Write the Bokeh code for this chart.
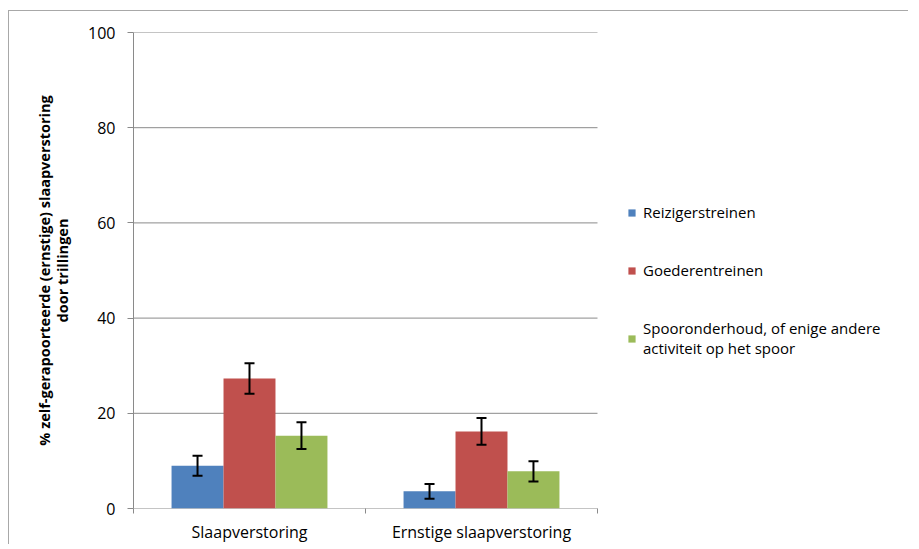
from bokeh.plotting import figure
from bokeh.models import (ColumnDataSource, Whisker, TeeHead, FixedTicker, Legend,
                          LegendItem, Range1d)
from bokeh.embed import file_html
from bokeh.resources import INLINE

# ---- data ----
categories = ["Slaapverstoring", "Ernstige slaapverstoring"]
series_names = ["Reizigerstreinen", "Goederentreinen",
                "Spooronderhoud, of enige andere\nactiviteit op het spoor"]
reizigers = [9.0, 3.6]
reizigers_err = [2.1, 1.55]
goederen = [27.3, 16.2]
goederen_err = [3.2, 2.8]
onderhoud = [15.3, 7.8]
onderhoud_err = [2.8, 2.15]
y_ticks = [0, 20, 40, 60, 80, 100]
y_label = "% zelf-gerapoorteerde (ernstige) slaapverstoring\ndoor trillingen"

colors = ["#4F81BD", "#C0504D", "#9BBB59"]
FONT = "Open Sans"
GRID = "#8a8a8a"

pos = [i + 1 for i in range(len(categories))]
values = [reizigers, goederen, onderhoud]
errors = [reizigers_err, goederen_err, onderhoud_err]
bar_w = 0.224
offsets = [-bar_w, 0.0, bar_w]

x_lo, x_hi = 0.5, len(categories) + 0.5
# frame extends to the right so that the legend sits inside it (not clipped)
p = figure(width=900, height=534, output_backend="svg", toolbar_location=None,
           x_range=Range1d(x_lo, 3.8276), y_range=Range1d(0, 100),
           min_border_left=124, min_border_right=4, min_border_top=21,
           min_border_bottom=30)
p.styles = {"border-left": "1px solid #a8a8a8", "border-top": "1px solid #a8a8a8",
            "margin-top": "10px", "margin-left": "8px"}
p.outline_line_color = None
p.background_fill_color = "white"
p.border_fill_color = "white"

# horizontal gridlines limited to the category area
p.segment(x0=[x_lo] * len(y_ticks), x1=[x_hi] * len(y_ticks), y0=y_ticks, y1=y_ticks,
          line_color=GRID, line_width=1)

items = []
for name, vals, errs, off, col in zip(series_names, values, errors, offsets, colors):
    src = ColumnDataSource(dict(
        x=[x + off for x in pos], top=vals,
        upper=[v + e for v, e in zip(vals, errs)],
        lower=[v - e for v, e in zip(vals, errs)]))
    r = p.vbar(x="x", top="top", width=bar_w, bottom=0, source=src,
               fill_color=col, line_color=None)
    w = Whisker(source=src, base="x", upper="upper", lower="lower", level="overlay",
                line_color="black", line_width=2,
                upper_head=TeeHead(size=10, line_color="black", line_width=2),
                lower_head=TeeHead(size=10, line_color="black", line_width=2))
    p.add_layout(w)
    items.append(LegendItem(label=name, renderers=[r]))

# axes
p.yaxis.ticker = FixedTicker(ticks=y_ticks)
p.yaxis.axis_line_color = GRID
p.yaxis.major_tick_line_color = GRID
p.yaxis.major_tick_out = 6
p.yaxis.major_tick_in = 0
p.yaxis.minor_tick_line_color = None
p.yaxis.major_label_standoff = 12
p.yaxis.major_label_text_font = FONT
p.yaxis.major_label_text_font_size = "16px"
p.yaxis.major_label_text_color = "black"
p.yaxis.axis_label = y_label
p.yaxis.axis_label_text_font = FONT
p.yaxis.axis_label_text_font_style = "bold"
p.yaxis.axis_label_text_font_size = "14.5px"
p.yaxis.axis_label_text_line_height = 0.93
p.yaxis.axis_label_text_color = "black"
p.yaxis.axis_label_standoff = 13

bounds = [i + 0.5 for i in range(len(categories) + 1)]
p.xaxis.ticker = FixedTicker(ticks=pos, minor_ticks=bounds)
p.xaxis.major_label_overrides = {x: c for x, c in zip(pos, categories)}
p.xaxis.axis_line_color = None
p.xaxis.major_tick_line_color = None
p.xaxis.minor_tick_line_color = GRID
p.xaxis.minor_tick_out = 5
p.xaxis.minor_tick_in = 0
p.xaxis.major_label_standoff = 6
p.xaxis.major_label_text_font = FONT
p.xaxis.major_label_text_font_size = "16px"
p.xaxis.major_label_text_color = "black"

p.xgrid.grid_line_color = None
p.ygrid.grid_line_color = None

legend = Legend(items=items, location=(494, 150), orientation="vertical",
                border_line_color=None, background_fill_alpha=0,
                padding=0, margin=0, spacing=38, label_height=20,
                glyph_width=9, glyph_height=9, label_standoff=7,
                label_text_font=FONT, label_text_font_size="15px",
                label_text_line_height=2.0,
                label_text_color="black")
p.add_layout(legend)

open("out.html", "w").write(file_html(p, INLINE))
